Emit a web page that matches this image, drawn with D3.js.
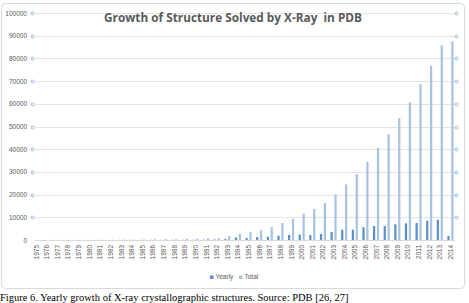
<!DOCTYPE html>
<html>
<head>
<meta charset="utf-8">
<script src="https://cdn.jsdelivr.net/npm/d3@7"></script>
<style>
  body { margin: 0; background: #fff; }
  svg { display: block; }
  .axisText { font-family: "Liberation Sans", Arial, sans-serif; font-size: 6.5px; fill: #595959; }
  .chartTitle { font-family: "Open Sans", "Liberation Sans", sans-serif; font-size: 11.8px; font-weight: bold; fill: #595959; white-space: pre; }
  .caption { font-family: "Liberation Serif", "Times New Roman", serif; font-size: 10.5px; fill: #000; }
</style>
</head>
<body>
<div id="chart"></div>
<script>
(function(){

  //chart data
  var years = ["1975","1976","1977","1978","1979","1980","1981","1982","1983","1984",
               "1985","1986","1987","1988","1989","1990","1991","1992","1993","1994",
               "1995","1996","1997","1998","1999","2000","2001","2002","2003","2004",
               "2005","2006","2007","2008","2009","2010","2011","2012","2013","2014"];
  var yearly = [3,10,20,25,30,15,20,25,30,30,
                40,45,60,60,80,110,140,230,450,1150,
                900,1300,1450,1900,2200,2350,2200,2650,3500,4550,
                4550,5600,6150,6150,6900,7350,7500,8500,8950,1750];
  var total = [3,13,33,58,88,103,123,148,178,208,
               248,293,353,413,493,603,743,750,1750,2800,
               3500,4400,5700,7500,9250,11600,13650,16300,20100,24500,
               29000,34400,40500,46700,53700,60600,68600,76650,85800,87500];
  var yTicks = [0,10000,20000,30000,40000,50000,60000,70000,80000,90000,100000];
  var seriesNames = ["Yearly", "Total"];
  var seriesColors = ["#5b8fc8", "#a9c1e1"];

  var width = 469, height = 303;

  //plot frame
  var left = 31, right = 456, top = 13, bottom = 240;

  var svg = d3.select("#chart")
      .append("svg")
      .attr("width", width)
      .attr("height", height);

  //outer chart border
  svg.append("rect")
      .attr("x", 1.5)
      .attr("y", 3.5)
      .attr("width", 463)
      .attr("height", 285)
      .attr("rx", 4)
      .style("fill", "#fff")
      .style("stroke", "#d9d9d9");

  var x = d3.scaleBand()
      .domain(years)
      .range([left, right]);

  var y = d3.scaleLinear()
      .domain([0, 100000])
      .range([bottom, top]);

  //gridlines with the little circle markers at both ends
  var grid = svg.append("g").attr("class", "grid");
  grid.selectAll("line")
      .data(yTicks)
      .enter()
      .append("line")
      .attr("x1", left + 4)
      .attr("x2", right - 1)
      .attr("y1", function(d){ return Math.round(y(d)) + 0.5; })
      .attr("y2", function(d){ return Math.round(y(d)) + 0.5; })
      .style("stroke", function(d){ return d == 0 ? "#d9d9d9" : "#e4e4e4"; })
      .style("stroke-width", 1);

  var ends = [left + 1.5, right + 0.5];
  ends.forEach(function(cx){
    grid.selectAll(null)
        .data(yTicks.filter(function(d){ return d > 0; }))
        .enter()
        .append("circle")
        .attr("cx", cx)
        .attr("cy", function(d){ return Math.round(y(d)) + 0.5; })
        .attr("r", 1.4)
        .style("fill", "#fff")
        .style("stroke", "#7fa3c9")
        .style("stroke-width", 0.8);
  });

  //y axis labels
  var yAxis = d3.axisLeft(y)
      .tickValues(yTicks)
      .tickSize(0)
      .tickPadding(0)
      .tickFormat(d3.format("d"));

  var axisY = svg.append("g")
      .attr("transform", "translate(27,0)")
      .call(yAxis);
  axisY.select(".domain").remove();
  axisY.selectAll("text").attr("class", "axisText").attr("font-family", null).attr("font-size", null);

  //x axis labels, rotated
  var xAxis = d3.axisBottom(x)
      .tickSize(0)
      .tickPadding(0);

  var axisX = svg.append("g")
      .attr("transform", "translate(0," + bottom + ")")
      .call(xAxis);
  axisX.select(".domain").remove();
  axisX.selectAll("text")
      .attr("class", "axisText")
      .attr("font-family", null)
      .attr("font-size", null)
      .attr("text-anchor", "end")
      .attr("dy", null)
      .attr("y", 0)
      .attr("transform", "translate(2.3,5) rotate(-90)");

  //bars
  var barW = 2.2;
  var series = [yearly, total];
  var offsets = [-3.3, 0.6];
  series.forEach(function(vals, s){
    svg.append("g")
        .selectAll("rect")
        .data(years)
        .enter()
        .append("rect")
        .attr("x", function(d){ return x(d) + x.bandwidth() / 2 + offsets[s]; })
        .attr("width", barW)
        .attr("y", function(d, i){ return y(vals[i]); })
        .attr("height", function(d, i){ return bottom - y(vals[i]); })
        .style("fill", seriesColors[s]);
  });

  //title
  svg.append("text")
      .attr("class", "chartTitle")
      .attr("x", 233)
      .attr("y", 22)
      .attr("text-anchor", "middle")
      .text("Growth of Structure Solved by X-Ray  in PDB");

  //legend
  var legendX = [210, 239];
  var legend = svg.selectAll(".legend")
      .data(seriesNames)
      .enter()
      .append("g")
      .attr("class", "legend")
      .attr("transform", function(d, i){ return "translate(" + legendX[i] + ",277)"; });
  legend.append("rect")
      .attr("x", 0)
      .attr("y", -1.5)
      .attr("width", 3.5)
      .attr("height", 3.5)
      .style("fill", function(d, i){ return seriesColors[i]; });
  legend.append("text")
      .attr("class", "axisText")
      .attr("x", 5.5)
      .attr("y", 2.3)
      .text(function(d){ return d; });

  //figure caption under the chart box
  svg.append("text")
      .attr("class", "caption")
      .attr("x", 0)
      .attr("y", 300.5)
      .text("Figure 6. Yearly growth of X-ray crystallographic structures. Source: PDB [26, 27]");

})();
</script>
</body>
</html>
